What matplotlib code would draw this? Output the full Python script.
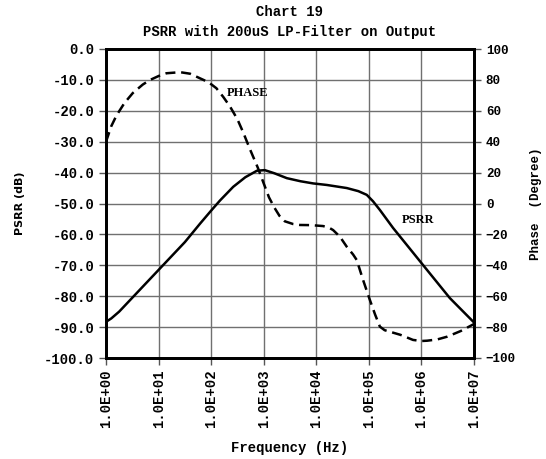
import numpy as np
import matplotlib
matplotlib.use("Agg")
import matplotlib.pyplot as plt
from matplotlib.ticker import FixedLocator, FuncFormatter, NullLocator

# data (x as log10 of frequency)
psrr_logf = [0.0, 0.1, 0.25, 0.5, 1.0, 1.5, 1.79, 2.0, 2.17, 2.42, 2.65, 2.87, 3.02, 3.2, 3.44,
             3.7, 3.94, 4.2, 4.58, 4.8, 4.96, 5.08, 5.21, 5.46, 5.75, 6.03, 6.54, 7.0]
psrr_db = [-88.3, -87.2, -85.0, -80.5, -71.5, -62.5, -56.5, -52.3, -49.0, -44.6, -41.5, -39.4, -39.2,
           -40.2, -41.8, -42.8, -43.5, -44.0, -45.0, -46.0, -47.2, -49.3, -52.1, -57.9, -64.0, -69.9,
           -80.6, -88.5]

phase_logf = [0.0, 0.1, 0.2, 0.35, 0.51, 0.7, 0.84, 1.0, 1.15, 1.41, 1.6, 1.79, 1.95, 2.1, 2.23,
              2.36, 2.5, 2.61, 2.74, 2.89, 3.0, 3.1, 3.2, 3.3, 3.4, 3.56, 3.69, 3.9, 4.13, 4.25,
              4.32, 4.45, 4.58, 4.7, 4.77, 4.89, 5.02, 5.12, 5.21, 5.3, 5.4, 5.6, 5.84, 6.0, 6.11,
              6.3, 6.49, 6.75, 7.0]
phase_deg = [40, 50, 57, 65, 71.5, 77, 80, 82.5, 84.3, 85, 84, 81, 78.5, 74.6, 69,
             62.7, 54.5, 46, 35, 23, 13, 4, -2.5, -8, -11.5, -13.3, -13.9, -14, -14.6, -15.8,
             -17.2, -21.5, -28, -33, -36.6, -49.5, -62.5, -72, -79.7, -82, -83, -85, -88.3, -89, -88.8,
             -88, -86.2, -82.5, -78]

x_ticks = [1e0, 1e1, 1e2, 1e3, 1e4, 1e5, 1e6, 1e7]
left_ticks = np.arange(-100, 1, 10)
right_ticks = np.arange(-100, 101, 20)

plt.rcParams["font.family"] = "Liberation Mono"
plt.rcParams["font.weight"] = "bold"

fig = plt.figure(figsize=(5.46, 4.59), dpi=100)
ax = fig.add_axes([106 / 546, 1 - 358 / 459, 368 / 546, 309 / 459])

ax.plot(10 ** np.array(psrr_logf), psrr_db, color="black", lw=1.8, zorder=3)
ax.set_xscale("log")
ax.set_xlim(1, 1e7)
ax.set_ylim(-100, 0)
ax.xaxis.set_major_locator(FixedLocator(x_ticks))
ax.xaxis.set_minor_locator(NullLocator())
ax.xaxis.set_major_formatter(FuncFormatter(lambda v, p: "%.1E" % v))
ax.set_yticks(left_ticks)
ax.set_yticklabels(["%.1f" % v for v in left_ticks])
ax.grid(True, color="#707070", lw=1)
ax.tick_params(axis="x", rotation=90, labelsize=10, length=5, width=1, color="#555555")
ax.tick_params(axis="y", labelsize=10, length=5, width=1, color="#555555")
for s in ax.spines.values():
    s.set_linewidth(2)

ax2 = ax.twinx()
ax2.plot(10 ** np.array(phase_logf), phase_deg, color="black", lw=1.8, dashes=(4, 2.3), zorder=3)
ax2.set_ylim(-100, 100)
ax2.set_yticks(right_ticks)
ax2.tick_params(axis="y", labelsize=9, length=5, width=1, color="#555555")
for s in ax2.spines.values():
    s.set_linewidth(2)

ax.text(10 ** 2.3, -14.2, "PHASE", family="Liberation Serif", fontweight="bold", fontsize=9,
        va="center", ha="left")
ax.text(10 ** 5.63, -55.3, "PSRR", family="Liberation Serif", fontweight="bold", fontsize=9,
        va="center", ha="left")

ax.set_xlabel("Frequency (Hz)", fontsize=10, fontweight="bold")
ax.xaxis.set_label_coords(0.5, -0.269)
ax.set_ylabel("PSRR (dB)", family="DejaVu Sans", fontsize=8, fontweight="bold")
ax.yaxis.set_label_coords(-0.22, 0.5)
ax2.set_ylabel("Phase  (Degree)", fontsize=9, fontweight="bold")
ax2.yaxis.set_label_coords(1.152, 0.5)

fig.text(290 / 546, 1 - 12 / 459, "Chart 19", ha="center", va="center", fontsize=10, fontweight="bold")
fig.text(290 / 546, 1 - 32 / 459, "PSRR with 200uS LP-Filter on Output", ha="center", va="center",
         fontsize=10, fontweight="bold")

fig.savefig("out.png", dpi=100)
